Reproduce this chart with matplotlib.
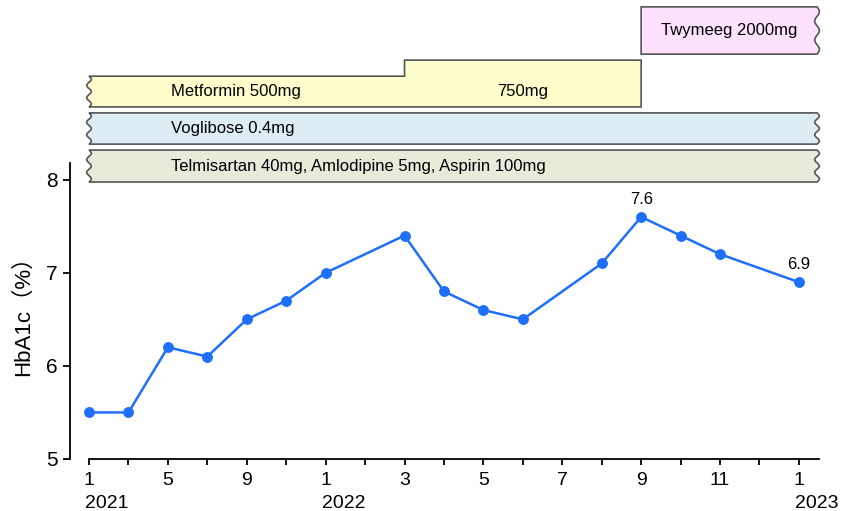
import numpy as np
import matplotlib
matplotlib.use("Agg")
import matplotlib.pyplot as plt
from matplotlib.patches import Polygon

plt.rcParams['font.family'] = ['Liberation Sans', 'Noto Sans CJK JP', 'DejaVu Sans']

# x axis positions (2021 every 2 months, then monthly)
tick_dates = ['2021-01', '2021-03', '2021-05', '2021-07', '2021-09', '2021-11',
              '2022-01', '2022-02', '2022-03', '2022-04', '2022-05', '2022-06',
              '2022-07', '2022-08', '2022-09', '2022-10', '2022-11', '2022-12',
              '2023-01']
labeled_ticks = ['2021-01', '2021-05', '2021-09', '2022-01', '2022-03', '2022-05',
                 '2022-07', '2022-09', '2022-11', '2023-01']
year_ticks = ['2021-01', '2022-01', '2023-01']

# HbA1c measurements
dates = ['2021-01', '2021-03', '2021-05', '2021-07', '2021-09', '2021-11',
         '2022-01', '2022-03', '2022-04', '2022-05', '2022-06', '2022-08',
         '2022-09', '2022-10', '2022-11', '2023-01']
hba1c = [5.5, 5.5, 6.2, 6.1, 6.5, 6.7, 7.0, 7.4, 6.8, 6.6, 6.5, 7.1,
         7.6, 7.4, 7.2, 6.9]
annotated = ['2022-09', '2023-01']

# medication bars: label, start, end (None = ongoing)
drug_rows = [
    ('Telmisartan 40mg, Amlodipine 5mg, Aspirin 100mg', '2021-01', None),
    ('Voglibose 0.4mg', '2021-01', None),
]
metformin_steps = [('Metformin 500mg', '2021-01', '2022-03'),
                   ('750mg', '2022-03', '2022-09')]
twymeeg = ('Twymeeg 2000mg', '2022-09', None)

pos = {d: i for i, d in enumerate(tick_dates)}
xs = [pos[d] for d in dates]
ongoing_end = len(tick_dates) - 1 + 0.46

fig = plt.figure(figsize=(8.41, 5.11), dpi=100)
ax = fig.add_axes([70 / 841, 52 / 511, 749 / 841, 459 / 511])
ax.set_xlim(-0.482, 18.51)
ax.set_ylim(5, 5 + 459 / 93.1)

line_color = '#1e6ffb'
ax.plot(xs, hba1c, color=line_color, lw=1.8, marker='o', ms=6.8, zorder=3)
for d in annotated:
    v = hba1c[dates.index(d)]
    ax.annotate(f'{v}', (pos[d], v), xytext=(0, 7), textcoords='offset points',
                ha='center', va='bottom', fontsize=12)

# axes styling
for s in ['top', 'right']:
    ax.spines[s].set_visible(False)
ax.spines['left'].set_bounds(5, 8.18)
ax.spines['bottom'].set_bounds(0, 18.51)
ax.spines['left'].set_linewidth(1.3)
ax.spines['bottom'].set_linewidth(1.3)
ax.set_yticks([5, 6, 7, 8])
ax.tick_params(axis='y', length=5, width=1.3, labelsize=15, pad=4)
ax.set_xticks(range(len(tick_dates)))
ax.set_xticklabels([str(int(d[5:])) if d in labeled_ticks else '' for d in tick_dates])
ax.tick_params(axis='x', length=4, width=1.3, labelsize=14, pad=5)
for d in year_ticks:
    ax.text(pos[d] - 0.1, -0.1068, d[:4], transform=ax.get_xaxis_transform(),
            ha='left', va='baseline', fontsize=14)
ax.set_ylabel('HbA1c（%）', fontsize=16)
ax.yaxis.set_label_coords(-0.048, 0.325)

# medication bars
tr = ax.get_xaxis_transform()
amp = 0.06
edge = '#555555'


def wave(x, y0, y1, n=25):
    ys = np.linspace(y0, y1, n)
    return [(x + amp * np.sin((y - y0) / (y1 - y0) * 5 * np.pi), y) for y in ys]


def bar(x0, x1, y0, y1, wavy_left, wavy_right, color):
    pts = [(x0, y0), (x1, y0)]
    pts += wave(x1, y0, y1) if wavy_right else [(x1, y1)]
    pts += [(x0, y1)]
    pts += wave(x0, y1, y0) if wavy_left else []
    ax.add_patch(Polygon(pts, closed=True, transform=tr, facecolor=color,
                         edgecolor=edge, lw=1.2, clip_on=False, zorder=2))


label_x = 2.08
row_y = [(0.6035, 0.673), (0.686, 0.754)]
row_colors = ['#e8eada', '#ddedf3']
for (label, start, end), (y0, y1), c in zip(drug_rows, row_y, row_colors):
    x1 = ongoing_end if end is None else pos[end]
    bar(pos[start], x1, y0, y1, True, end is None, c)
    ax.text(label_x, (y0 + y1) / 2, label, transform=tr, ha='left', va='center',
            fontsize=12)

# metformin stepped bar
(m1, s1, e1), (m2, s2, e2) = metformin_steps
y0, y1, y2 = 0.767, 0.834, 0.869
pts = [(pos[s1], y0), (pos[e2], y0), (pos[e2], y2), (pos[s2], y2), (pos[s2], y1),
       (pos[s1], y1)] + wave(pos[s1], y1, y0)
ax.add_patch(Polygon(pts, closed=True, transform=tr, facecolor='#fefdcc',
                     edgecolor=edge, lw=1.2, clip_on=False, zorder=2))
ax.text(label_x, (y0 + y1) / 2, m1, transform=tr, ha='left', va='center', fontsize=12)
ax.text((pos[s2] + pos[e2]) / 2, (y0 + y1) / 2, m2, transform=tr, ha='center',
        va='center', fontsize=12)

# twymeeg
label, start, end = twymeeg
bar(pos[start], ongoing_end, 0.882, 0.985, False, True, '#fde1fd')
ax.text((pos[start] + ongoing_end) / 2, 0.934, label, transform=tr,
        ha='center', va='center', fontsize=12)

fig.savefig('out.png', dpi=100)
